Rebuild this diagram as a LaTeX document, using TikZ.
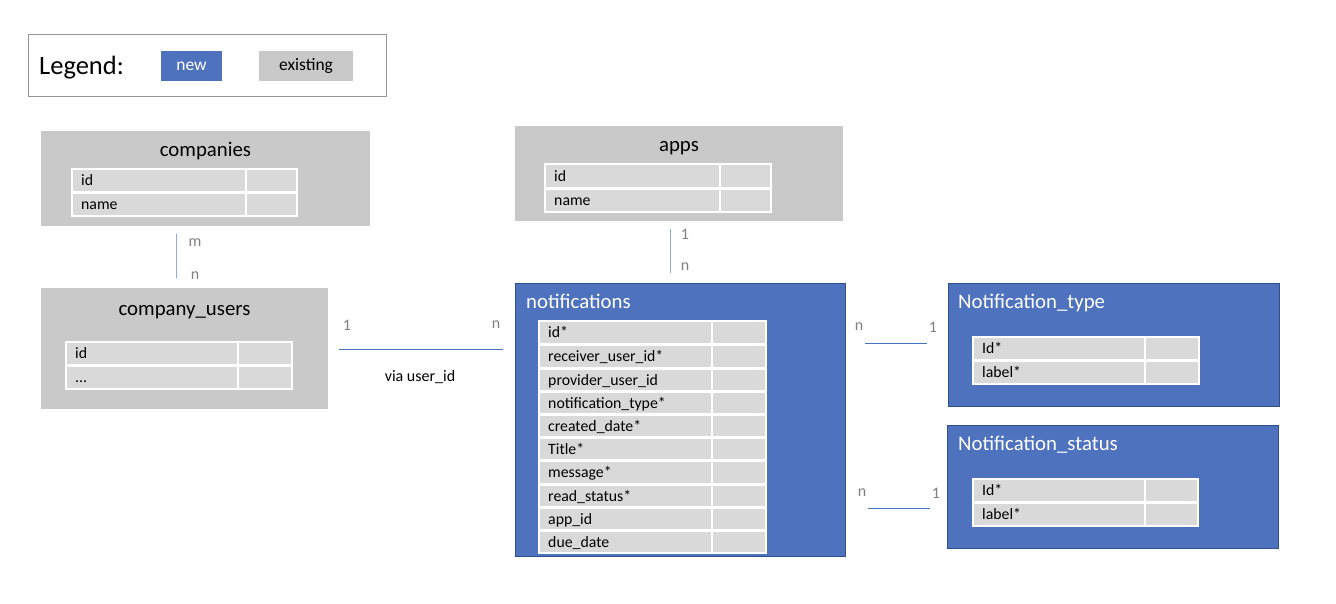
\documentclass[tikz,border=0pt]{standalone}
\usepackage{fontspec}
\setmainfont{Carlito}
\usetikzlibrary{calc}
\definecolor{newblue}{RGB}{78,114,190}
\definecolor{newborder}{RGB}{47,82,143}
\definecolor{oldgray}{RGB}{201,201,201}
\definecolor{cellgray}{RGB}{217,217,217}
\definecolor{linkblue}{RGB}{68,114,196}
\definecolor{linklight}{RGB}{143,170,220}
\definecolor{cardgray}{RGB}{127,127,127}
\definecolor{legendborder}{RGB}{150,150,150}
\tikzset{
  newbox/.style={fill=newblue, draw=newborder, line width=1pt, anchor=north west, inner sep=0pt},
  oldbox/.style={fill=oldgray, anchor=north west, inner sep=0pt},
  cell/.style={fill=cellgray, draw=white, line width=1.5pt},
  fieldtext/.style={anchor=west, font=\fontsize{15.8}{18}\selectfont, inner sep=0pt, text height=11pt, text depth=3.5pt},
  oldtitle/.style={font=\fontsize{20.8}{23}\selectfont, inner sep=0pt, text height=14.5pt, text depth=4.5pt},
  newtitle/.style={font=\fontsize{20.8}{23}\selectfont, inner sep=0pt, text height=14.5pt, text depth=4.5pt, text=white, anchor=west},
  card/.style={font=\fontsize{16}{18}\selectfont, text=cardgray, inner sep=0pt},
  relline/.style={draw=linkblue, line width=0.8pt},
  relvline/.style={draw=linklight, line width=1pt},
}
% name, x0, xsplit, x1, ytop, ybot, text
\newcommand{\dbcells}[7]{%
  \path[cell] (#2,#5) rectangle (#3,#6);
  \path[cell] (#3,#5) rectangle (#4,#6);
  \node[fieldtext] (#1) at ($(#2,#5)!0.5!(#2,#6)+(9,1.5)$) {#7};
}
\begin{document}
\begin{tikzpicture}[x=1pt,y=-1pt]
\useasboundingbox (0,0) rectangle (1336,604);

% Legend
\node[draw=legendborder, line width=1pt, anchor=north west, minimum width=358pt, minimum height=62pt, inner sep=0pt] (legend) at (28,34) {};
\node[anchor=west, font=\fontsize{26.5}{29}\selectfont, inner sep=0pt] (legendtxt) at (39,68) {Legend:};
\node[fill=newblue, minimum width=61pt, minimum height=30pt, inner sep=0pt, text=white, font=\fontsize{17.5}{20}\selectfont] (lnew) at (191.5,66) {new};
\node[fill=oldgray, minimum width=94pt, minimum height=30pt, inner sep=0pt, font=\fontsize{17.5}{20}\selectfont] (lexist) at (306,66) {existing};

% companies
\node[oldbox, minimum width=329pt, minimum height=95pt] (companies) at (41,131) {};
\node[oldtitle] (companiest) at (205.5,152) {companies};
\dbcells{c1}{72}{246}{297}{169}{192}{id}
\dbcells{c2}{72}{246}{297}{193}{216}{name}

% company_users
\node[oldbox, minimum width=287pt, minimum height=121pt] (cusers) at (41,288) {};
\node[oldtitle] (cuserst) at (184.5,310) {company\_users};
\dbcells{cu1}{66}{238}{292}{342}{365}{id}
\dbcells{cu2}{66}{238}{292}{366}{389}{...}

% apps
\node[oldbox, minimum width=328pt, minimum height=95pt] (apps) at (515,126) {};
\node[oldtitle] (appst) at (679,147) {apps};
\dbcells{a1}{545}{720}{771}{164}{188}{id}
\dbcells{a2}{545}{720}{771}{189}{212}{name}

% notifications
\node[newbox, minimum width=330pt, minimum height=273pt] (notif) at (515,283) {};
\node[newtitle] (notift) at (526,303) {notifications};
\foreach \t [count=\i from 0] in {id*, receiver\_user\_id*, provider\_user\_id, notification\_type*, created\_date*, Title*, message*, read\_status*, app\_id, due\_date} {
  \pgfmathsetmacro{\ya}{321+\i*23.2+(\i>0 ? 1.5 : 0)}
  \pgfmathsetmacro{\yb}{321+(\i+1)*23.2}
  \dbcells{n\i}{539}{712}{766}{\ya}{\yb}{\t}
}

% Notification_type
\node[newbox, minimum width=331pt, minimum height=123pt] (ntype) at (948,283) {};
\node[newtitle] (ntypet) at (958,303) {Notification\_type};
\dbcells{t1}{973}{1145}{1199}{337}{360}{Id*}
\dbcells{t2}{973}{1145}{1199}{361}{384}{label*}

% Notification_status
\node[newbox, minimum width=331pt, minimum height=123pt] (nstatus) at (947,425) {};
\node[newtitle] (nstatust) at (958,445) {Notification\_status};
\dbcells{s1}{973}{1145}{1198}{479}{502}{Id*}
\dbcells{s2}{973}{1145}{1198}{503}{526}{label*}

% relation companies - company_users
\coordinate (r1a) at (176,234);
\coordinate (r1b) at (176,278);
\draw[relvline] (r1a) -- (r1b);
\node[card] (r1m) at (195,243) {m};
\node[card] (r1n) at (195,276) {n};

% relation apps - notifications
\coordinate (r2a) at (670,229);
\coordinate (r2b) at (670,273);
\draw[relvline] (r2a) -- (r2b);
\node[card] (r2one) at (685,234) {1};
\node[card] (r2n) at (685,267) {n};

% relation company_users - notifications
\coordinate (r3a) at (339,349);
\coordinate (r3b) at (503,349);
\draw[relline] (r3a) -- (r3b);
\node[card] (r3one) at (347,325) {1};
\node[card] (r3n) at (496,325) {n};
\node[font=\fontsize{16}{18}\selectfont, inner sep=0pt] (r3lab) at (420,377) {via user\_id};

% relation notifications - Notification_type
\coordinate (r4a) at (865,343);
\coordinate (r4b) at (927,343);
\draw[relline] (r4a) -- (r4b);
\node[card] (r4n) at (859,327) {n};
\node[card] (r4one) at (933,327) {1};

% relation notifications - Notification_status
\coordinate (r5a) at (868,508);
\coordinate (r5b) at (930,508);
\draw[relline] (r5a) -- (r5b);
\node[card] (r5n) at (862,493) {n};
\node[card] (r5one) at (936,493) {1};
\end{tikzpicture}
\end{document}
